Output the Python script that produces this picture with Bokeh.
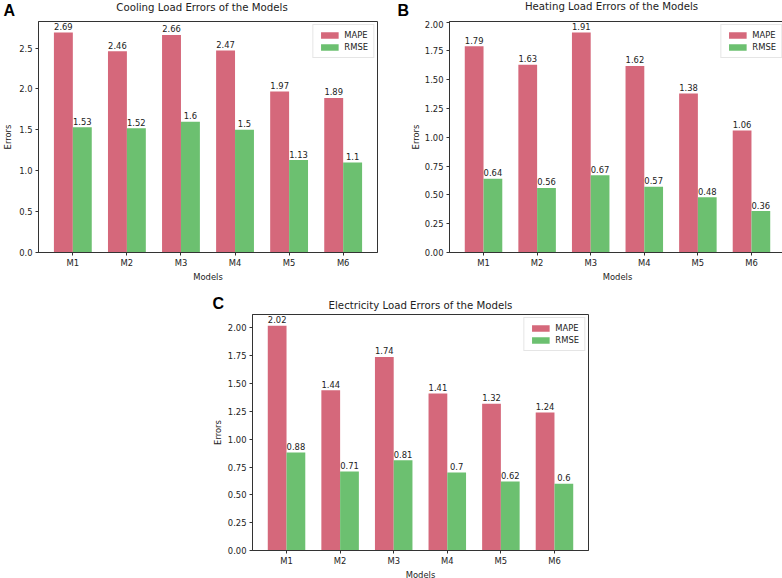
from bokeh.plotting import figure
from bokeh.layouts import column, row
from bokeh.models import (ColumnDataSource, Range1d, FixedTicker, PrintfTickFormatter,
                          Label, Spacer, Legend)
from bokeh.transform import dodge
from bokeh.core.properties import value
from bokeh.embed import file_html
from bokeh.resources import INLINE

# ---------------- data ----------------
models = ["M1", "M2", "M3", "M4", "M5", "M6"]
series_names = ["MAPE", "RMSE"]

cooling_mape = [2.69, 2.46, 2.66, 2.47, 1.97, 1.89]
cooling_rmse = [1.53, 1.52, 1.6, 1.5, 1.13, 1.1]

heating_mape = [1.79, 1.63, 1.91, 1.62, 1.38, 1.06]
heating_rmse = [0.64, 0.56, 0.67, 0.57, 0.48, 0.36]

elec_mape = [2.02, 1.44, 1.74, 1.41, 1.32, 1.24]
elec_rmse = [0.88, 0.71, 0.81, 0.7, 0.62, 0.6]

cooling_yticks = [0.0, 0.5, 1.0, 1.5, 2.0, 2.5]
heating_yticks = [0.0, 0.25, 0.5, 0.75, 1.0, 1.25, 1.5, 1.75, 2.0]
elec_yticks = [0.0, 0.25, 0.5, 0.75, 1.0, 1.25, 1.5, 1.75, 2.0]

titles = ["Cooling Load Errors of the Models",
          "Heating Load Errors of the Models",
          "Electricity Load Errors of the Models"]
letters = ["A", "B", "C"]
x_label = "Models"
y_label = "Errors"

# ---------------- style / layout ----------------
MAPE_COLOR = "#d5687b"
RMSE_COLOR = "#6cc070"
FONT = "DejaVu Sans"
TXT = "#222222"
SPINE = "#333333"
BAR_W = 0.35
FS = "8.4px"
TITLE_FS = "10.2px"
LETTER_FS = "16px"
SHIFT = 3.3  # title baseline correction (px)

PAGE_W = 781
STRIP1_H = 20
STRIP2_H = 23
C_LEFT = 200  # horizontal offset of panel C


def panel(mape, rmse, yticks, yfmt, fw, fh, bl, br, bt, bb, ylab_standoff):
    xs = list(range(len(models)))
    src = ColumnDataSource(dict(
        x=xs, mape=mape, rmse=rmse,
        mape_lbl=[str(v) for v in mape], rmse_lbl=[str(v) for v in rmse]))
    lo = xs[0] - BAR_W
    hi = xs[-1] + BAR_W
    pad = 0.05 * (hi - lo)
    x0, x1 = lo - pad, hi + pad
    y0, y1 = 0.0, max(mape + rmse) * 1.05

    p = figure(x_range=Range1d(x0, x1), y_range=Range1d(y0, y1),
               frame_width=fw, frame_height=fh,
               min_border_left=bl, min_border_right=br,
               min_border_top=bt, min_border_bottom=bb,
               toolbar_location=None, output_backend="svg", title=None,
               background_fill_color="white", border_fill_color="white")

    r1 = p.vbar(x=dodge("x", -BAR_W / 2), top="mape", width=BAR_W, source=src,
                fill_color=MAPE_COLOR, line_color=None)
    r2 = p.vbar(x=dodge("x", BAR_W / 2), top="rmse", width=BAR_W, source=src,
                fill_color=RMSE_COLOR, line_color=None)

    for col, off in (("mape", -BAR_W / 2), ("rmse", BAR_W / 2)):
        p.text(x=dodge("x", off), y=col, text=col + "_lbl", source=src,
               text_font=value(FONT), text_font_size=FS, text_color=TXT,
               text_align="center", text_baseline="alphabetic", y_offset=-6)

    legend = Legend(items=[(series_names[0], [r1]), (series_names[1], [r2])],
                    location="top_right", margin=3, padding=5, spacing=2,
                    glyph_width=22, glyph_height=8, label_height=9,
                    label_standoff=4, label_text_font=FONT,
                    label_text_font_size=FS, label_text_color=TXT,
                    border_line_color="#cccccc", border_line_width=1,
                    background_fill_color="white", background_fill_alpha=0.85)
    p.add_layout(legend)

    p.xgrid.visible = False
    p.ygrid.visible = False
    p.outline_line_color = SPINE
    p.outline_line_width = 1

    p.xaxis.ticker = FixedTicker(ticks=xs)
    p.xaxis.major_label_overrides = {i: m for i, m in zip(xs, models)}
    p.yaxis.ticker = FixedTicker(ticks=yticks)
    p.yaxis.formatter = PrintfTickFormatter(format=yfmt)
    p.xaxis.axis_label = x_label
    p.yaxis.axis_label = y_label
    for ax in p.axis:
        ax.axis_line_color = SPINE
        ax.major_tick_line_color = SPINE
        ax.major_tick_out = 3
        ax.major_tick_in = 0
        ax.minor_tick_out = 0
        ax.minor_tick_in = 0
        ax.major_label_text_font = FONT
        ax.major_label_text_font_size = FS
        ax.major_label_text_color = TXT
        ax.axis_label_text_font = FONT
        ax.axis_label_text_font_size = FS
        ax.axis_label_text_font_style = "normal"
        ax.axis_label_text_color = TXT
    p.xaxis.major_label_standoff = 2
    p.yaxis.major_label_standoff = 3
    p.xaxis.axis_label_standoff = 1
    p.yaxis.axis_label_standoff = ylab_standoff
    return p


def strip(height):
    s = figure(width=PAGE_W, height=height,
               x_range=Range1d(0, PAGE_W), y_range=Range1d(height, 0),
               x_axis_type=None, y_axis_type=None, min_border=0,
               toolbar_location=None, output_backend="svg", title=None,
               outline_line_color=None, background_fill_color="white",
               border_fill_color="white")
    return s


def add_title(s, text, cx, base):
    s.add_layout(Label(x=cx, y=base - SHIFT, text=text, text_align="center",
                       text_baseline="alphabetic", text_font=FONT,
                       text_font_size=TITLE_FS, text_color=TXT))


def add_letter(s, text, lx, mid):
    s.add_layout(Label(x=lx, y=mid, text=text, text_align="left",
                       text_baseline="middle", text_font="Liberation Sans",
                       text_font_style="bold", text_font_size=LETTER_FS,
                       text_color="#000000"))


# panel geometry (pixels)
A = dict(bl=32, fw=339, br=27, bt=1, fh=231, bb=38)
B = dict(bl=45, fw=336, br=2, bt=1, fh=231, bb=38)
C = dict(bl=52, fw=336, br=20, bt=1, fh=236, bb=27)

pA = panel(cooling_mape, cooling_rmse, cooling_yticks, "%.1f", ylab_standoff=3, **A)
pB = panel(heating_mape, heating_rmse, heating_yticks, "%.2f", ylab_standoff=1, **B)
pC = panel(elec_mape, elec_rmse, elec_yticks, "%.2f", ylab_standoff=2, **C)

a_w = A["bl"] + A["fw"] + A["br"]
s1 = strip(STRIP1_H)
add_title(s1, titles[0], A["bl"] + A["fw"] / 2, 9.8)
add_title(s1, titles[1], a_w + B["bl"] + B["fw"] / 2, 9.5)
add_letter(s1, letters[0], 3, STRIP1_H / 2)
add_letter(s1, letters[1], a_w - 1, STRIP1_H / 2)

s2 = strip(STRIP2_H)
add_title(s2, titles[2], C_LEFT + C["bl"] + C["fw"] / 2, 18.5)
add_letter(s2, letters[2], C_LEFT + 12, 12.5)

c_h = C["bt"] + C["fh"] + C["bb"]
layout = column(s1, row(pA, pB), s2, row(Spacer(width=C_LEFT, height=c_h), pC))

open("out.html", "w").write(file_html(layout, INLINE))
